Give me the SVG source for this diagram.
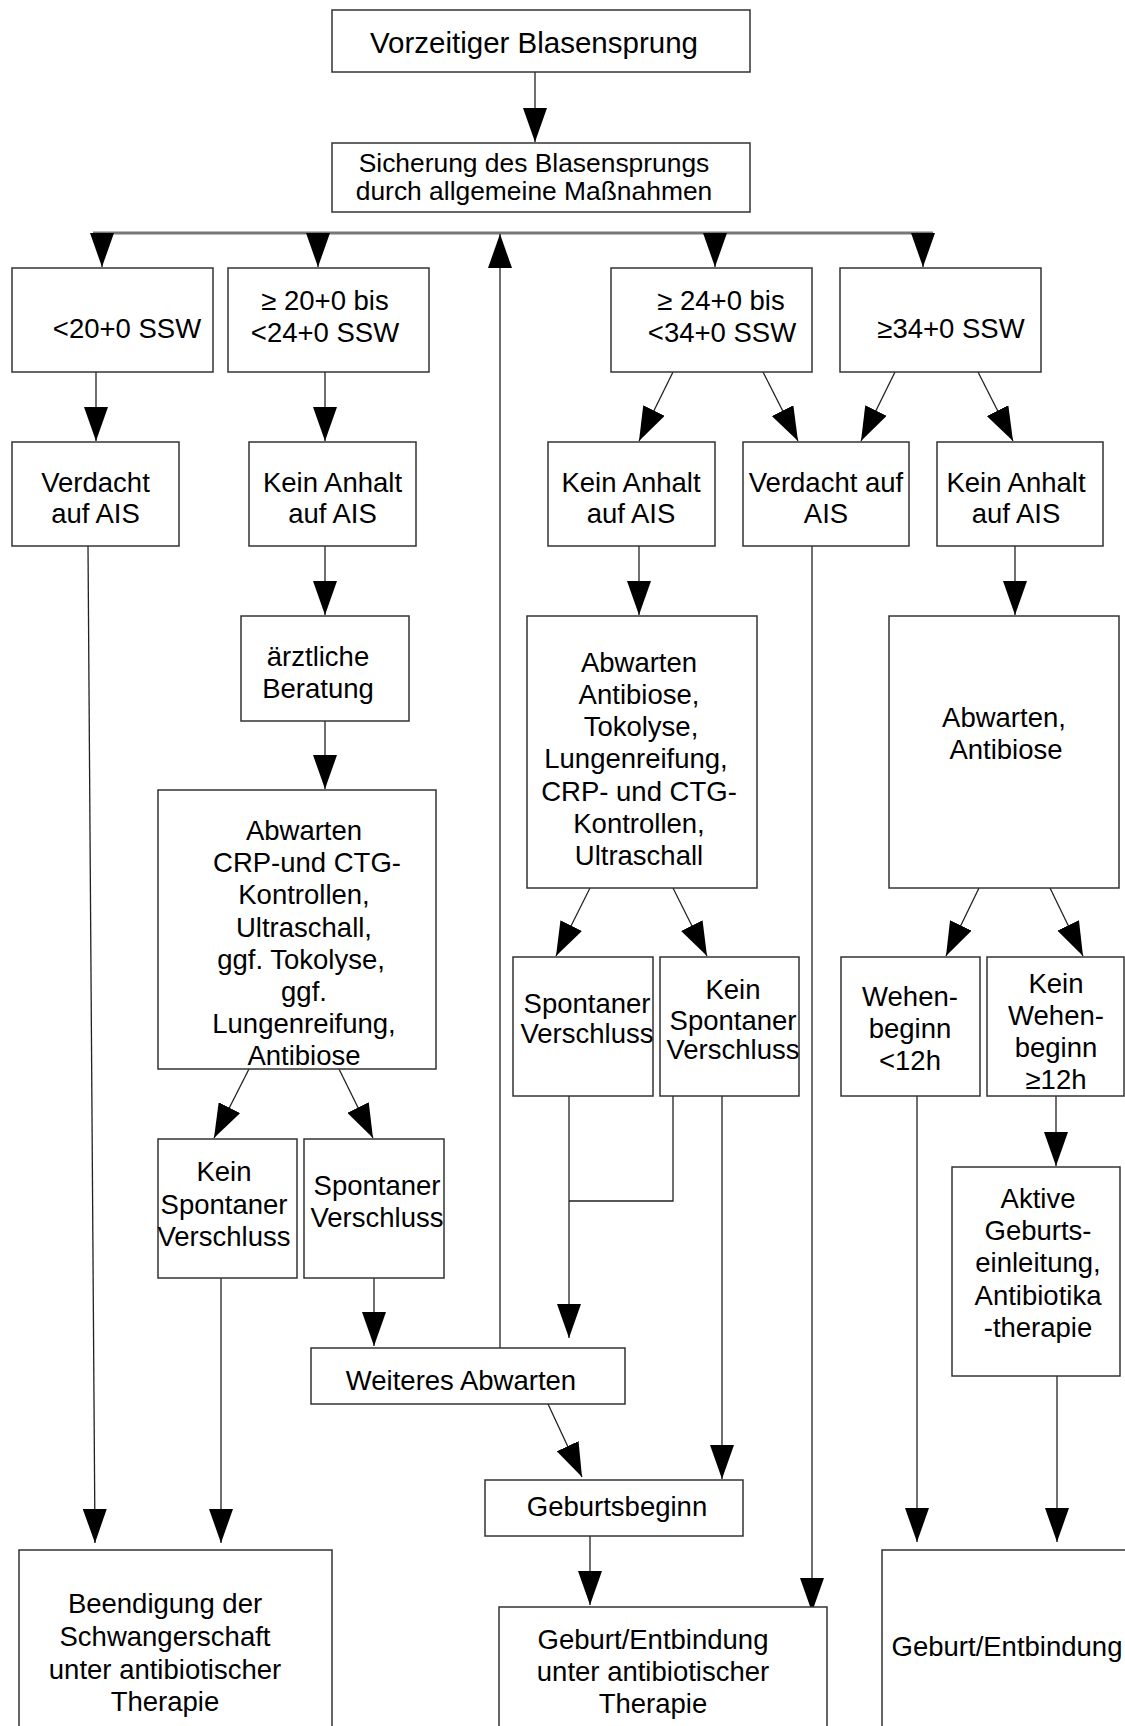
<svg xmlns="http://www.w3.org/2000/svg" width="1125" height="1726" viewBox="0 0 1125 1726">
<defs>
<style>
.box{fill:#fff;stroke:#333;stroke-width:1.5}
.t{font-family:"Liberation Sans",Arial,Helvetica,sans-serif;font-size:27.5px;fill:#000;text-anchor:middle}
.c{fill:none;stroke:#222;stroke-width:1.3}
.a{marker-end:url(#ah)}
.bus{fill:none;stroke:#777;stroke-width:3}
</style>
<marker id="ah" markerUnits="userSpaceOnUse" markerWidth="34" markerHeight="24" refX="34" refY="12" orient="auto">
<path d="M0,0 L34,12 L0,24 z" fill="#000"/>
</marker>
</defs>
<rect width="1125" height="1726" fill="#fff"/>

<g id="connectors">
<line class="c a" x1="535" y1="72" x2="535" y2="142"/>
<line class="bus" x1="93" y1="233" x2="933" y2="233"/>
<line class="c a" x1="102" y1="233" x2="102" y2="267"/>
<line class="c a" x1="318" y1="233" x2="318" y2="267"/>
<line class="c a" x1="715" y1="233" x2="715" y2="267"/>
<line class="c a" x1="923" y1="233" x2="923" y2="267"/>
<line class="c a" x1="500" y1="1348" x2="500" y2="234"/>
<line class="c a" x1="96" y1="372" x2="96" y2="441"/>
<line class="c a" x1="325" y1="372" x2="325" y2="441"/>
<line class="c a" x1="673" y1="372" x2="639" y2="441"/>
<line class="c a" x1="763" y1="372" x2="798" y2="441"/>
<line class="c a" x1="895" y1="372" x2="861" y2="441"/>
<line class="c a" x1="978" y1="372" x2="1013" y2="441"/>
<line class="c a" x1="88" y1="546" x2="95" y2="1543"/>
<line class="c a" x1="325" y1="546" x2="325" y2="615"/>
<line class="c a" x1="639" y1="546" x2="639" y2="615"/>
<line class="c a" x1="812" y1="546" x2="812" y2="1612"/>
<line class="c a" x1="1015" y1="546" x2="1015" y2="615"/>
<line class="c a" x1="325" y1="721" x2="325" y2="789"/>
<line class="c a" x1="249" y1="1069" x2="214" y2="1138"/>
<line class="c a" x1="339" y1="1069" x2="373" y2="1138"/>
<line class="c a" x1="590" y1="888" x2="556" y2="956"/>
<line class="c a" x1="673" y1="888" x2="707" y2="956"/>
<line class="c a" x1="979" y1="888" x2="946" y2="956"/>
<line class="c a" x1="1050" y1="888" x2="1083" y2="956"/>
<line class="c a" x1="221" y1="1278" x2="221" y2="1543"/>
<line class="c a" x1="374" y1="1278" x2="374" y2="1346"/>
<line class="c a" x1="569" y1="1096" x2="569" y2="1338"/>
<polyline class="c" points="673,1096 673,1201 569,1201"/>
<line class="c a" x1="722" y1="1096" x2="722" y2="1479"/>
<line class="c a" x1="917" y1="1096" x2="917" y2="1542"/>
<line class="c a" x1="1056" y1="1096" x2="1056" y2="1166"/>
<line class="c a" x1="1057" y1="1376" x2="1057" y2="1542"/>
<line class="c a" x1="548" y1="1404" x2="582" y2="1477"/>
<line class="c a" x1="590" y1="1536" x2="590" y2="1605"/>
</g>

<g id="n-vorzeitig">
<rect class="box" x="332" y="10" width="418" height="62"/>
<text class="t" x="534" y="53" style="font-size:29.5px">Vorzeitiger Blasensprung</text>
</g>
<g id="n-sicherung">
<rect class="box" x="332" y="143" width="418" height="69"/>
<text class="t" x="534" y="172" style="font-size:26.4px">Sicherung des Blasensprungs</text>
<text class="t" x="534" y="200" style="font-size:26.4px">durch allgemeine Maßnahmen</text>
</g>

<g id="n-lt20">
<rect class="box" x="12" y="268" width="201" height="104"/>
<text class="t" x="127" y="338">&lt;20+0 SSW</text>
</g>
<g id="n-20-24">
<rect class="box" x="228" y="268" width="201" height="104"/>
<text class="t" x="325" y="310">≥ 20+0 bis</text>
<text class="t" x="325" y="342">&lt;24+0 SSW</text>
</g>
<g id="n-24-34">
<rect class="box" x="611" y="268" width="201" height="104"/>
<text class="t" x="721" y="310">≥ 24+0 bis</text>
<text class="t" x="722" y="342">&lt;34+0 SSW</text>
</g>
<g id="n-ge34">
<rect class="box" x="840" y="268" width="201" height="104"/>
<text class="t" x="951" y="338">≥34+0 SSW</text>
</g>

<g id="n-verdacht1">
<rect class="box" x="12" y="442" width="167" height="104"/>
<text class="t" x="95.5" y="492">Verdacht</text>
<text class="t" x="95.5" y="523">auf AIS</text>
</g>
<g id="n-kein1">
<rect class="box" x="249" y="442" width="167" height="104"/>
<text class="t" x="332.5" y="492">Kein Anhalt</text>
<text class="t" x="332.5" y="523">auf AIS</text>
</g>
<g id="n-kein2">
<rect class="box" x="548" y="442" width="167" height="104"/>
<text class="t" x="631" y="492">Kein Anhalt</text>
<text class="t" x="631" y="523">auf AIS</text>
</g>
<g id="n-verdacht2">
<rect class="box" x="743" y="442" width="166" height="104"/>
<text class="t" x="826" y="492">Verdacht auf</text>
<text class="t" x="826" y="523">AIS</text>
</g>
<g id="n-kein3">
<rect class="box" x="937" y="442" width="166" height="104"/>
<text class="t" x="1016" y="492">Kein Anhalt</text>
<text class="t" x="1016" y="523">auf AIS</text>
</g>

<g id="n-beratung">
<rect class="box" x="241" y="616" width="168" height="105"/>
<text class="t" x="318" y="666">ärztliche</text>
<text class="t" x="318" y="698">Beratung</text>
</g>
<g id="n-abwarten-crp">
<rect class="box" x="158" y="790" width="278" height="279"/>
<text class="t" x="304" y="840">Abwarten</text>
<text class="t" x="307" y="872">CRP-und CTG-</text>
<text class="t" x="304" y="904">Kontrollen,</text>
<text class="t" x="304" y="937">Ultraschall,</text>
<text class="t" x="301" y="969">ggf. Tokolyse,</text>
<text class="t" x="304" y="1001">ggf.</text>
<text class="t" x="304" y="1033">Lungenreifung,</text>
<text class="t" x="304" y="1065">Antibiose</text>
</g>
<g id="n-abwarten-mid">
<rect class="box" x="527" y="616" width="230" height="272"/>
<text class="t" x="639" y="672">Abwarten</text>
<text class="t" x="639" y="704">Antibiose,</text>
<text class="t" x="641" y="736">Tokolyse,</text>
<text class="t" x="636" y="768">Lungenreifung,</text>
<text class="t" x="639" y="801">CRP- und CTG-</text>
<text class="t" x="639" y="833">Kontrollen,</text>
<text class="t" x="639" y="865">Ultraschall</text>
</g>
<g id="n-abwarten-right">
<rect class="box" x="889" y="616" width="230" height="272"/>
<text class="t" x="1004" y="727">Abwarten,</text>
<text class="t" x="1006" y="759">Antibiose</text>
</g>

<g id="n-spont-mid">
<rect class="box" x="513" y="957" width="140" height="139"/>
<text class="t" x="587" y="1013">Spontaner</text>
<text class="t" x="587" y="1043">Verschluss</text>
</g>
<g id="n-keinspont-mid">
<rect class="box" x="660" y="957" width="139" height="139"/>
<text class="t" x="733" y="999">Kein</text>
<text class="t" x="733" y="1030">Spontaner</text>
<text class="t" x="733" y="1059">Verschluss</text>
</g>
<g id="n-wehen">
<rect class="box" x="841" y="957" width="139" height="139"/>
<text class="t" x="910" y="1006">Wehen-</text>
<text class="t" x="910" y="1038">beginn</text>
<text class="t" x="910" y="1070">&lt;12h</text>
</g>
<g id="n-keinwehen">
<rect class="box" x="987" y="957" width="137" height="139"/>
<text class="t" x="1056" y="993">Kein</text>
<text class="t" x="1056" y="1025">Wehen-</text>
<text class="t" x="1056" y="1057">beginn</text>
<text class="t" x="1056" y="1089">≥12h</text>
</g>

<g id="n-keinspont-left">
<rect class="box" x="158" y="1139" width="139" height="139"/>
<text class="t" x="224" y="1181">Kein</text>
<text class="t" x="224" y="1214">Spontaner</text>
<text class="t" x="224" y="1246">Verschluss</text>
</g>
<g id="n-spont-left">
<rect class="box" x="304" y="1139" width="140" height="139"/>
<text class="t" x="377" y="1195">Spontaner</text>
<text class="t" x="377" y="1227">Verschluss</text>
</g>

<g id="n-aktive">
<rect class="box" x="952" y="1167" width="168" height="209"/>
<text class="t" x="1038" y="1208">Aktive</text>
<text class="t" x="1038" y="1240">Geburts-</text>
<text class="t" x="1038" y="1272">einleitung,</text>
<text class="t" x="1038" y="1305">Antibiotika</text>
<text class="t" x="1038" y="1337">-therapie</text>
</g>

<g id="n-weiteres">
<rect class="box" x="311" y="1348" width="314" height="56"/>
<text class="t" x="461" y="1390">Weiteres Abwarten</text>
</g>
<g id="n-geburtsbeginn">
<rect class="box" x="485" y="1480" width="258" height="56"/>
<text class="t" x="617" y="1516">Geburtsbeginn</text>
</g>

<g id="n-beendigung">
<rect class="box" x="19" y="1550" width="313" height="200"/>
<text class="t" x="165" y="1613">Beendigung der</text>
<text class="t" x="165" y="1646">Schwangerschaft</text>
<text class="t" x="165" y="1679">unter antibiotischer</text>
<text class="t" x="165" y="1711">Therapie</text>
</g>
<g id="n-geburt-mid">
<rect class="box" x="499" y="1607" width="328" height="150"/>
<text class="t" x="653" y="1649">Geburt/Entbindung</text>
<text class="t" x="653" y="1681">unter antibiotischer</text>
<text class="t" x="653" y="1713">Therapie</text>
</g>
<g id="n-geburt-right">
<rect class="box" x="882" y="1550" width="260" height="200"/>
<text class="t" x="1007" y="1656">Geburt/Entbindung</text>
</g>
</svg>
